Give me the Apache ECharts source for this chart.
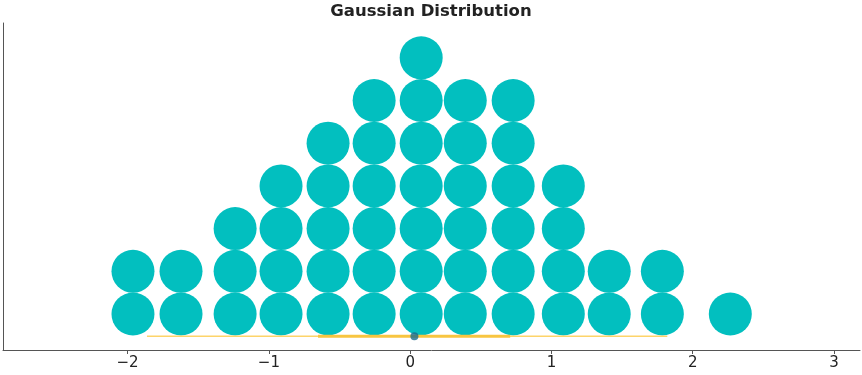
<!DOCTYPE html>
<html><head><meta charset="utf-8">
<script src="https://cdn.jsdelivr.net/npm/echarts@6/dist/echarts.min.js"></script>
<style>html,body{margin:0;padding:0;background:#fff}#c{width:862px;height:375px}</style>
</head><body><div id="c"></div>
<script>
// Column positions (x) of the quantile dots and how many dots are stacked in each
const columnX = [-1.962, -1.622, -1.239, -0.914, -0.581, -0.255, 0.078, 0.390, 0.729, 1.084, 1.409, 1.785, 2.266];
const columnCount = [2, 2, 3, 4, 5, 6, 7, 6, 6, 4, 2, 2, 1];
// Intervals and median
const interval95 = [-1.863, 1.820];
const interval66 = [-0.652, 0.708];
const median = 0.03;
const xTicks = [-2, -1, 0, 1, 2, 3];
const titleText = 'Gaussian Distribution';

const dots = [];
columnX.forEach((x, i) => { for (let k = 0; k < columnCount[i]; k++) dots.push([x, k]); });
const lineY = -0.52;

const chart = echarts.init(document.getElementById('c'), null, {renderer: 'canvas'});
chart.setOption({
  animation: false,
  title: {text: titleText, left: 'center', top: -2,
    textStyle: {fontFamily: 'DejaVu Sans', fontWeight: 'bold', fontSize: 16.5, color: '#222'}},
  grid: {left: 3, right: 2, top: 23, bottom: 25, containLabel: false},
  xAxis: {type: 'value', min: -2.882, max: 3.184,
    axisLine: {show: true, onZero: false, lineStyle: {color: '#555', width: 1}},
    axisTick: {show: true, length: 4, customValues: xTicks, lineStyle: {color: '#555'}},
    axisLabel: {show: true, customValues: xTicks, margin: 6, fontFamily: 'DejaVu Sans', fontSize: 15, color: '#222',
      formatter: v => String(v).replace('-', '\u2212')},
    splitLine: {show: false}},
  yAxis: {type: 'value', min: -0.843, max: 6.815,
    axisLine: {show: true, onZero: false, lineStyle: {color: '#555', width: 1}},
    axisTick: {show: false}, axisLabel: {show: false}, splitLine: {show: false}},
  series: [
    {type: 'scatter', data: dots, symbol: 'circle', symbolSize: 43,
      itemStyle: {color: '#02bfbf', opacity: 1}, silent: true, z: 2},
    {type: 'line', data: interval95.map(x => [x, lineY]), symbol: 'none',
      lineStyle: {color: '#fdd46a', width: 1.6}, silent: true, z: 3},
    {type: 'line', data: interval66.map(x => [x, lineY]), symbol: 'none',
      lineStyle: {color: '#f8c540', width: 3}, silent: true, z: 4},
    {type: 'scatter', data: [[median, lineY]], symbolSize: 8,
      itemStyle: {color: '#1a6b8c'}, silent: true, z: 5}
  ]
});
</script></body></html>
